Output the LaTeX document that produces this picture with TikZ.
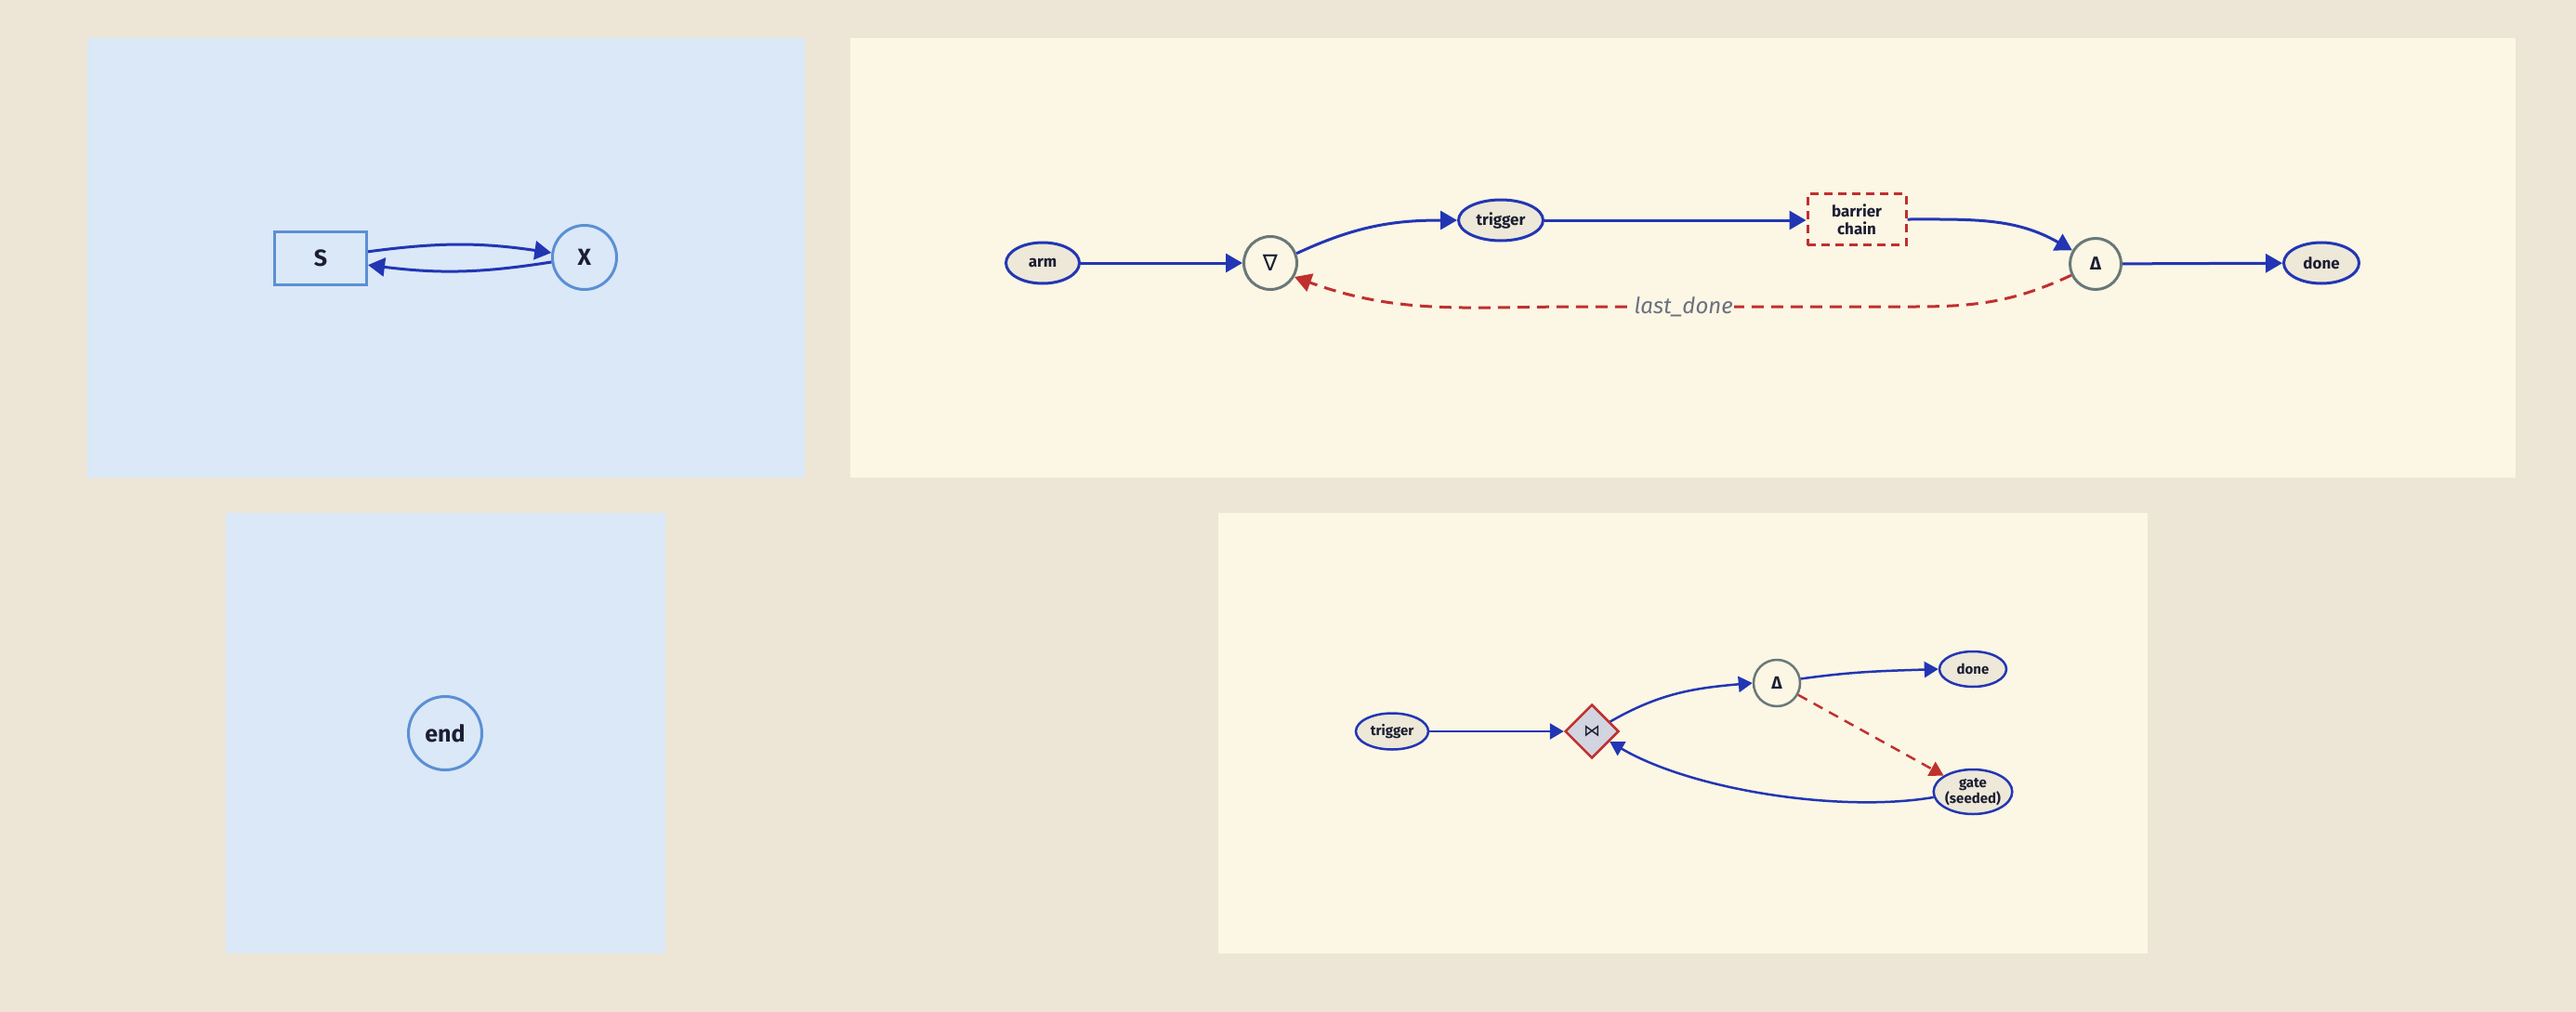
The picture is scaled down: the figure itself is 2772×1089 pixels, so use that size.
\documentclass[tikz,border=0pt]{standalone}
\usepackage{fontspec}
\setmainfont{Fira Sans}
\newfontfamily\symfont{DejaVu Sans}
\usetikzlibrary{arrows.meta,shapes.geometric}
\definecolor{bgc}{HTML}{EDE6D6}
\definecolor{bluepanel}{HTML}{DAE8F7}
\definecolor{creampanel}{HTML}{FCF6E4}
\definecolor{nodefill}{HTML}{EDE8D8}
\definecolor{darkblue}{HTML}{2236B4}
\definecolor{lightblue}{HTML}{5B8FD4}
\definecolor{greyline}{HTML}{697878}
\definecolor{redline}{HTML}{C0302F}
\definecolor{diafill}{HTML}{D2D4E0}
\definecolor{labelc}{HTML}{6A7080}
\definecolor{txt}{HTML}{1C1E33}
\tikzset{
  p1rect/.style={draw=lightblue, line width=3pt, rectangle, minimum width=99pt, minimum height=57pt, inner sep=0pt, text=txt, font=\bfseries\fontsize{25}{27}\selectfont},
  p1circ/.style={draw=lightblue, line width=3pt, circle, minimum size=69pt, inner sep=0pt, text=txt, font=\bfseries\fontsize{25}{27}\selectfont},
  ell/.style={draw=darkblue, fill=nodefill, line width=3pt, ellipse, inner sep=0pt, text=txt, font=\bfseries\fontsize{17}{20}\selectfont, align=center},
  ellsm/.style={ell, line width=2.5pt, font=\bfseries\fontsize{15}{16}\selectfont},
  opnode/.style={draw=greyline, line width=3pt, circle, inner sep=0pt, text=txt, font=\bfseries\fontsize{20}{22}\selectfont},
  barbox/.style={draw=redline, dashed, dash pattern=on 9pt off 6pt, line width=3pt, rectangle, minimum width=106pt, minimum height=55pt, inner sep=0pt, text=txt, font=\bfseries\fontsize{17}{19}\selectfont, align=center},
  joinbox/.style={draw=redline, fill=diafill, line width=2.5pt, diamond, minimum width=58pt, minimum height=58pt, inner sep=0pt, text=txt, font=\symfont\fontsize{18}{18}\selectfont},
  arr/.style={draw=darkblue, line width=3pt, -{Triangle[length=18pt,width=20pt]}},
  arrsm/.style={draw=darkblue, line width=2.5pt, -{Triangle[length=15pt,width=17pt]}},
  darr/.style={draw=redline, line width=3pt, dash pattern=on 13pt off 8pt, -{Triangle[length=18pt,width=20pt]}},
  darrsm/.style={draw=redline, line width=2.5pt, dash pattern=on 11pt off 8pt, -{Triangle[length=15pt,width=17pt]}},
  lbl/.style={fill=creampanel, inner sep=1pt, text=labelc, font=\itshape\fontsize{24}{24}\selectfont}
}
\begin{document}
\begin{tikzpicture}[x=1pt,y=-1pt]
\useasboundingbox (0,0) rectangle (2772,1089);
\fill[bgc] (0,0) rectangle (2772,1089);
\fill[bluepanel] (94,41) rectangle (866,514);
\fill[creampanel] (915,41) rectangle (2707,514);
\fill[bluepanel] (243,552) rectangle (716,1026);
\fill[creampanel] (1311,552) rectangle (2311,1026);

% panel 1
\node[p1rect] (S) at (345,278) {S};
\node[p1circ] (X) at (629,277) {X};
\draw[arr] (S.8) to[bend left=8] (X.172);
\draw[arr] (X.188) to[bend left=8] (S.-8);

% panel 3
\node[p1circ, minimum size=79pt] (endn) at (479,789) {end};

% panel 2
\node[ell, minimum width=79pt, minimum height=44pt] (arm) at (1122,283) {arm};
\node[opnode, minimum size=57pt, font=\symfont\fontsize{24}{24}\selectfont] (nabla) at (1367,283) {∇};
\node[ell, minimum width=91pt, minimum height=44pt] (trig) at (1615,237) {trigger};
\node[barbox] (bar) at (1998,236) {barrier\\chain};
\node[opnode, minimum size=55pt] (delta) at (2255,284) {Δ};
\node[ell, minimum width=81pt, minimum height=44pt] (done) at (2498,283) {done};
\coordinate (c1) at (2060,330);
\coordinate (c2) at (1700,330);

\draw[arr] (arm) -- (nabla);
\draw[arr] (nabla.20) to[out=25,in=180] (trig.west);
\draw[arr] (trig.east) -- (bar.west |- trig.east);
\draw[arr] (bar.east) to[out=0,in=150] (delta.150);
\draw[arr] (delta) -- (done);
\draw[darr] (delta.205) to[out=205,in=0] (c1) -- node[lbl, pos=0.69] {last\_done} (c2) to[out=180,in=-20] (nabla.330);

% panel 4
\node[ellsm, minimum width=78pt, minimum height=39pt] (trig2) at (1498,787) {trigger};
\node[joinbox] (dia) at (1713,787) {⋈};
\node[opnode, line width=2.5pt, minimum size=50pt, font=\bfseries\fontsize{19}{20}\selectfont] (d2) at (1912,735) {Δ};
\node[ellsm, minimum width=72pt, minimum height=38pt] (done2) at (2123,720) {done};
\node[ellsm, minimum width=78pt, minimum height=48pt] (gate) at (2123,852) {gate\\(seeded)};

\draw[arrsm] (trig2) -- (dia);
\draw[arrsm] (dia.28) to[out=30,in=185] (d2.west);
\draw[arrsm] (d2.10) to[out=8,in=182] (done2.west);
\draw[darrsm] (d2) -- (gate);
\draw[arrsm] (gate.188) .. controls (1980,875) and (1820,850) .. (dia.-30);
\end{tikzpicture}
\end{document}
